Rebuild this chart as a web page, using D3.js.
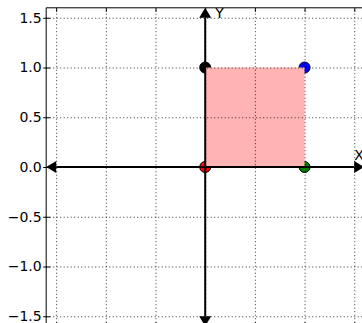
<!DOCTYPE html>
<html>
<head>
<meta charset="utf-8">
<script src="https://cdn.jsdelivr.net/npm/d3@7"></script>
<style>
  html, body { margin: 0; padding: 0; background: #fff; overflow: hidden; }
  svg { display: block; font-family: "DejaVu Sans", sans-serif; overflow: hidden; }
</style>
</head>
<body>
<svg id="chart" width="362" height="323"></svg>
<script>
// Unit square with its four corner points on a Cartesian plane
const pointX = [0, 1, 1, 0];
const pointY = [0, 0, 1, 1];
const pointColors = ["#ff0000", "#008000", "#0000ff", "#000000"];
const squareX = [0, 1];
const squareY = [0, 1];
const axisLimits = [-1.6, 1.6];
const gridTicks = [-1.5, -1.0, -0.5, 0.0, 0.5, 1.0, 1.5];
const yTickLabels = ["\u22121.5", "\u22121.0", "\u22120.5", "0.0", "0.5", "1.0", "1.5"];
const axisNames = ["X", "Y"];

const svg = d3.select("#chart");

const x = d3.scaleLinear().domain(axisLimits).range([46.2, 364.2]);
const y = d3.scaleLinear().domain(axisLimits).range([326.2, 7.8]);
const [plotLeft, plotRight] = x.range();
const [plotBottom, plotTop] = y.range();

// corner points (drawn first, the square sits on top of them)
svg.append("g").selectAll("circle")
  .data(pointX.map((v, i) => ({ x: v, y: pointY[i], c: pointColors[i] })))
  .join("circle")
  .attr("cx", d => x(d.x))
  .attr("cy", d => y(d.y))
  .attr("r", 5.5)
  .attr("fill", d => d.c)
  .attr("stroke", "#000")
  .attr("stroke-width", 1);

// filled unit square
svg.append("rect")
  .attr("x", x(squareX[0]))
  .attr("y", y(squareY[1]))
  .attr("width", x(squareX[1]) - x(squareX[0]))
  .attr("height", y(squareY[0]) - y(squareY[1]))
  .attr("fill", "#ffb3b3");

// dotted grid
const gridStyle = g => {
  g.select(".domain").remove();
  g.selectAll("text").remove();
  g.selectAll("line")
    .attr("stroke", "#000")
    .attr("stroke-width", 0.8)
    .attr("stroke-dasharray", "1,2.5");
};
svg.append("g")
  .attr("transform", `translate(0,${plotBottom})`)
  .call(d3.axisBottom(x).tickValues(gridTicks).tickSizeInner(-(plotBottom - plotTop)).tickSizeOuter(0))
  .call(gridStyle);
svg.append("g")
  .attr("transform", `translate(${plotLeft},0)`)
  .call(d3.axisLeft(y).tickValues(gridTicks).tickSizeInner(-(plotRight - plotLeft)).tickSizeOuter(0))
  .call(gridStyle);

// frame with inward ticks
const tickStyle = g => {
  g.select(".domain").remove();
  g.selectAll("text").remove();
  g.selectAll("line").attr("stroke", "#000").attr("stroke-width", 1);
};
svg.append("g").attr("transform", `translate(0,${plotTop})`)
  .call(d3.axisTop(x).tickValues(gridTicks).tickSizeInner(-4).tickSizeOuter(0)).call(tickStyle);
svg.append("g").attr("transform", `translate(0,${plotBottom})`)
  .call(d3.axisBottom(x).tickValues(gridTicks).tickSizeInner(-4).tickSizeOuter(0)).call(tickStyle);
svg.append("g").attr("transform", `translate(${plotLeft},0)`)
  .call(d3.axisLeft(y).tickValues(gridTicks).tickSizeInner(-4).tickSizeOuter(0)).call(tickStyle);

// left axis with labels
const yAxis = svg.append("g")
  .attr("transform", `translate(${plotLeft},0)`)
  .call(d3.axisLeft(y)
    .tickValues(gridTicks)
    .tickFormat((d, i) => yTickLabels[i])
    .tickSizeInner(3)
    .tickSizeOuter(0)
    .tickPadding(1.5));
yAxis.select(".domain").remove();
yAxis.selectAll("line").attr("stroke", "#000");
yAxis.selectAll("text").attr("font-size", 14).attr("fill", "#000")
  .attr("font-family", "DejaVu Sans, sans-serif");

// frame: left, top and bottom sides
svg.append("path")
  .attr("d", `M${plotRight},${plotTop}H${plotLeft}V${plotBottom}H${plotRight}`)
  .attr("fill", "none").attr("stroke", "#000").attr("stroke-width", 1);

// coordinate axes with arrowheads at both ends
const head = 10, half = 6;
const arrows = svg.append("g").attr("fill", "#000").attr("stroke", "#000");
const tri = (pts) => "M" + pts.map(p => p.join(",")).join("L") + "Z";
const ox = x(0), oy = y(0);
const xl = x(axisLimits[0]), xr = x(axisLimits[1]);
const yb = y(axisLimits[0]), yt = y(axisLimits[1]);
arrows.append("line")
  .attr("x1", xl + head).attr("x2", xr - head)
  .attr("y1", oy).attr("y2", oy).attr("stroke-width", 2);
arrows.append("line")
  .attr("x1", ox).attr("x2", ox)
  .attr("y1", yb - head).attr("y2", yt + head)
  .attr("stroke-width", 2);
arrows.append("path").attr("stroke", "none")
  .attr("d", tri([[xl, oy], [xl + head, oy - half], [xl + head, oy + half]]));
arrows.append("path").attr("stroke", "none")
  .attr("d", tri([[xr, oy], [xr - head, oy - half], [xr - head, oy + half]]));
arrows.append("path").attr("stroke", "none")
  .attr("d", tri([[ox, yt], [ox - half, yt + head], [ox + half, yt + head]]));
arrows.append("path").attr("stroke", "none")
  .attr("d", tri([[ox, yb], [ox - half, yb - head], [ox + half, yb - head]]));

// axis names
svg.append("text").attr("x", x(1.5)).attr("y", y(0.07))
  .attr("font-size", 14).text(axisNames[0]);
svg.append("text").attr("x", x(0.1)).attr("y", y(1.5))
  .attr("font-size", 14).text(axisNames[1]);
</script>
</body>
</html>
